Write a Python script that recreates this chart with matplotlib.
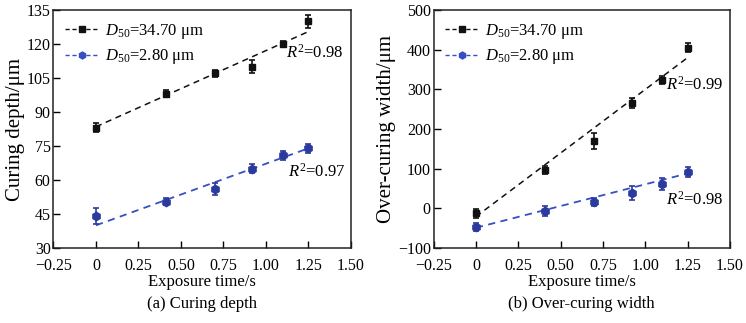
import matplotlib
matplotlib.use("Agg")
import matplotlib.pyplot as plt

plt.rcParams["font.family"] = ["Liberation Serif", "DejaVu Serif"]
plt.rcParams["mathtext.fontset"] = "custom"
plt.rcParams["mathtext.rm"] = "Liberation Serif"
plt.rcParams["mathtext.it"] = "Liberation Serif:italic"
plt.rcParams["font.size"] = 11.5

# exposure times (s)
time_s = [0.0, 0.41, 0.70, 0.92, 1.10, 1.25]

# (a) curing depth, um
depth_coarse = [83, 98, 107, 110, 120, 130]
depth_coarse_err = [2, 1.5, 1.5, 3, 1.5, 3]
depth_fine = [44, 50.5, 56, 65, 71, 74]
depth_fine_err = [3.5, 1.5, 2.5, 2, 2, 2]
depth_fit_coarse = [83.5, 125.5]   # fit line at t=0 and t=1.25
depth_fit_fine = [40, 74]

# (b) over-curing width, um
width_coarse = [-13, 97, 170, 265, 323, 405]
width_coarse_err = [12, 10, 20, 12, 10, 12]
width_fine = [-47, -7, 17, 38, 62, 92]
width_fine_err = [10, 12, 10, 18, 15, 12]
width_fit_coarse = [-21, 380]
width_fit_fine = [-49, 88]

fit_t = [0.0, 1.25]

BLACK = "#111111"
BLUE = "#2a3a9e"
BLUE_LINE = "#3550c0"

LAB_COARSE = r"$\mathit{D}_{50}$=34.70 μm"
LAB_FINE = r"$\mathit{D}_{50}$=2.80 μm"


def draw_panel(ax, yc, yc_err, yf, yf_err, fit_c, fit_f, ylim, yticks,
               ylabel, caption, r2_c, r2_c_pos, r2_f, r2_f_pos):
    # dashed fit lines
    ax.plot(fit_t, fit_c, ls=(0, (4, 3)), color=BLACK, lw=1.1)
    ax.plot(fit_t, fit_f, ls=(0, (4, 3)), color=BLUE_LINE, lw=1.3)
    ax.errorbar(time_s, yc, yerr=yc_err, fmt="s", color=BLACK, ms=5,
                capsize=2.5, elinewidth=1.2, capthick=1.2)
    ax.errorbar(time_s, yf, yerr=yf_err, fmt="h", color=BLUE, ms=6,
                capsize=2.5, elinewidth=1.2, capthick=1.2)

    # legend proxies (dashed line with marker)
    ax.plot([], [], ls=(0, (3, 2)), color=BLACK, marker="s", ms=4, lw=1.0, label=LAB_COARSE)
    ax.plot([], [], ls=(0, (3, 2)), color=BLUE_LINE, marker="h", ms=5, lw=1.0, label=LAB_FINE)
    h, l = ax.get_legend_handles_labels()
    ax.legend(h[-2:], l[-2:], loc="upper left", frameon=False, fontsize=12,
              handlelength=2.0, handletextpad=0.4, borderaxespad=0.4,
              labelspacing=0.4, borderpad=0.3)

    ax.text(r2_c_pos[0], r2_c_pos[1], r"$\mathit{R}^{2}$=" + r2_c, fontsize=12, va="center")
    ax.text(r2_f_pos[0], r2_f_pos[1], r"$\mathit{R}^{2}$=" + r2_f, fontsize=12, va="center")

    ax.set_xlim(-0.25, 1.5)
    ax.set_xticks([-0.25, 0, 0.25, 0.5, 0.75, 1.0, 1.25, 1.5])
    ax.set_xticklabels(["\u22120.25", "0", "0.25", "0.50", "0.75", "1.00", "1.25", "1.50"])
    ax.set_ylim(*ylim)
    ax.set_yticks(yticks)
    ax.set_yticklabels([str(v).replace("-", "\u2212") for v in yticks])
    ax.tick_params(direction="in", length=5, width=1, top=False, right=False)
    ax.tick_params(axis="x", pad=7)
    ax.tick_params(axis="y", pad=2)
    for sp in ax.spines.values():
        sp.set_linewidth(1.1)
        sp.set_color("#222222")
    ax.set_xlabel("Exposure time/s", fontsize=12, labelpad=0)
    ax.set_ylabel(ylabel, fontsize=15, labelpad=1)
    ax.text(0.5, -0.2, caption, transform=ax.transAxes, ha="center", va="top", fontsize=12)


fig = plt.figure(figsize=(7.46, 3.23), dpi=100)
ax1 = fig.add_axes([0.0717, 0.2322, 0.3988, 0.7368])
ax2 = fig.add_axes([0.5812, 0.2322, 0.3973, 0.7368])

draw_panel(ax1, depth_coarse, depth_coarse_err, depth_fine, depth_fine_err,
           depth_fit_coarse, depth_fit_fine, (30, 135), [30, 45, 60, 75, 90, 105, 120, 135],
           "Curing depth/μm", "(a) Curing depth",
           "0.98", (1.12, 116), "0.97", (1.13, 63.5))
draw_panel(ax2, width_coarse, width_coarse_err, width_fine, width_fine_err,
           width_fit_coarse, width_fit_fine, (-100, 500), [-100, 0, 100, 200, 300, 400, 500],
           "Over-curing width/μm", "(b) Over-curing width",
           "0.99", (1.12, 311), "0.98", (1.12, 21))

fig.savefig("out.png", dpi=100)
